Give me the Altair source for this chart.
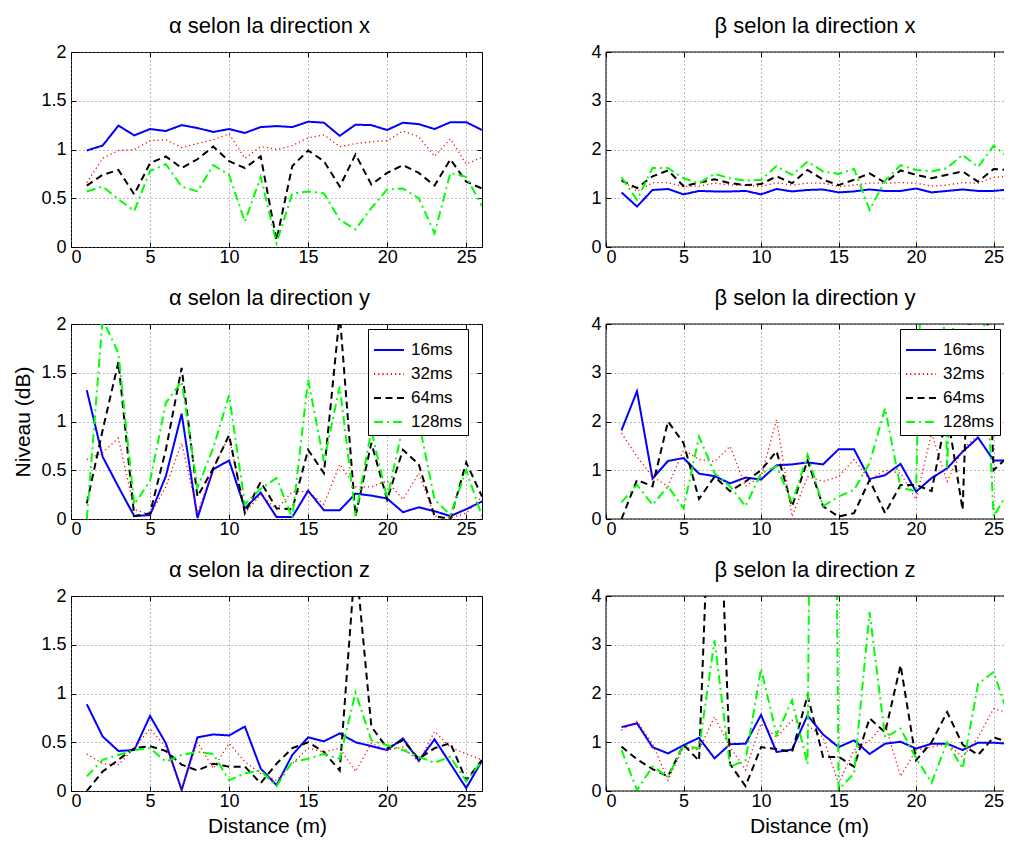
import altair as alt
import pandas as pd

x_vals = list(range(1, 27))
series = ["16ms", "32ms", "64ms", "128ms"]
colors = ["#0000ff", "#ff0000", "#000000", "#00ff00"]
dashes = [[1, 0], [1.2, 3], [7, 4.5], [9, 4, 2, 4]]

x_ticks = [0, 5, 10, 15, 20, 25]
alpha_ticks = [0, 0.5, 1, 1.5, 2]
beta_ticks = [0, 1, 2, 3, 4]

# alpha, direction x
a_x_16 = [0.99, 1.04, 1.245, 1.145, 1.21, 1.19, 1.25, 1.22, 1.18, 1.21, 1.17, 1.23, 1.24, 1.23, 1.285, 1.275, 1.14, 1.255, 1.25, 1.20, 1.275, 1.26, 1.21, 1.28, 1.28, 1.20]
a_x_32 = [0.66, 0.91, 0.99, 1.0, 1.09, 1.1, 1.02, 1.06, 1.1, 1.16, 0.91, 1.03, 1.0, 1.04, 1.12, 1.15, 1.03, 1.06, 1.08, 1.09, 1.19, 1.13, 0.93, 1.11, 0.85, 0.92]
a_x_64 = [0.63, 0.74, 0.79, 0.54, 0.86, 0.93, 0.81, 0.9, 1.03, 0.88, 0.81, 0.93, 0.07, 0.83, 0.99, 0.88, 0.62, 0.95, 0.64, 0.76, 0.84, 0.76, 0.63, 0.9, 0.67, 0.6]
a_x_128 = [0.57, 0.62, 0.49, 0.37, 0.78, 0.85, 0.62, 0.57, 0.84, 0.74, 0.26, 0.72, 0.04, 0.55, 0.57, 0.55, 0.28, 0.18, 0.4, 0.59, 0.6, 0.5, 0.14, 0.76, 0.72, 0.42]

# alpha, direction y
a_y_16 = [1.32, 0.64, 0.33, 0.03, 0.04, 0.44, 1.08, 0.01, 0.51, 0.6, 0.11, 0.27, 0.02, 0.02, 0.29, 0.09, 0.09, 0.26, 0.24, 0.21, 0.07, 0.12, 0.08, 0.03, 0.1, 0.18]
a_y_32 = [0.61, 0.68, 0.83, 0.1, 0.04, 0.33, 0.78, 0.06, 0.52, 0.85, 0.06, 0.25, 0.1, 0.28, 0.28, 0.15, 0.56, 0.33, 0.33, 0.39, 0.2, 0.47, 0.03, 0.01, 0.06, 0.23]
a_y_64 = [0.16, 0.91, 1.61, 0.03, 0.06, 0.71, 1.55, 0.23, 0.52, 0.86, 0.06, 0.38, 0.11, 0.1, 0.71, 0.47, 2.1, 0.03, 0.78, 0.2, 0.71, 0.56, 0.03, 0.0, 0.58, 0.23]
a_y_128 = [0.0, 2.05, 1.7, 0.15, 0.39, 1.19, 1.41, 0.32, 0.73, 1.27, 0.15, 0.31, 0.42, 0.01, 1.43, 0.59, 1.36, 0.03, 0.91, 0.21, 0.95, 1.0, 0.2, 0.04, 0.5, 0.03]

# alpha, direction z
a_z_16 = [0.89, 0.56, 0.41, 0.42, 0.77, 0.49, 0.01, 0.55, 0.58, 0.57, 0.66, 0.23, 0.06, 0.37, 0.55, 0.51, 0.59, 0.5, 0.46, 0.42, 0.54, 0.31, 0.53, 0.28, 0.03, 0.31]
a_z_32 = [0.38, 0.28, 0.27, 0.44, 0.64, 0.45, 0.01, 0.5, 0.23, 0.49, 0.3, 0.18, 0.11, 0.28, 0.44, 0.4, 0.44, 0.2, 0.49, 0.42, 0.45, 0.3, 0.61, 0.45, 0.38, 0.32]
a_z_64 = [0.0, 0.2, 0.32, 0.44, 0.46, 0.41, 0.27, 0.21, 0.28, 0.25, 0.25, 0.08, 0.28, 0.44, 0.5, 0.4, 0.21, 2.4, 0.66, 0.44, 0.52, 0.33, 0.44, 0.49, 0.11, 0.32]
a_z_128 = [0.15, 0.32, 0.37, 0.42, 0.44, 0.3, 0.37, 0.4, 0.38, 0.11, 0.18, 0.21, 0.05, 0.3, 0.33, 0.38, 0.33, 1.01, 0.52, 0.47, 0.42, 0.35, 0.29, 0.35, 0.1, 0.31]

# beta, direction x
b_x_16 = [1.12, 0.83, 1.17, 1.19, 1.08, 1.15, 1.14, 1.14, 1.15, 1.08, 1.19, 1.14, 1.17, 1.18, 1.12, 1.14, 1.18, 1.15, 1.15, 1.2, 1.12, 1.15, 1.18, 1.15, 1.15, 1.18]
b_x_32 = [1.38, 1.14, 1.32, 1.32, 1.24, 1.25, 1.31, 1.27, 1.27, 1.24, 1.32, 1.27, 1.31, 1.31, 1.24, 1.27, 1.31, 1.31, 1.32, 1.31, 1.25, 1.27, 1.32, 1.31, 1.43, 1.45]
b_x_64 = [1.36, 1.21, 1.45, 1.57, 1.25, 1.32, 1.39, 1.31, 1.27, 1.29, 1.45, 1.31, 1.58, 1.38, 1.27, 1.38, 1.51, 1.32, 1.57, 1.48, 1.41, 1.48, 1.55, 1.34, 1.6, 1.58]
b_x_128 = [1.43, 0.97, 1.62, 1.62, 1.41, 1.31, 1.5, 1.41, 1.36, 1.38, 1.66, 1.48, 1.75, 1.55, 1.5, 1.6, 0.76, 1.36, 1.68, 1.58, 1.55, 1.62, 1.89, 1.64, 2.08, 1.82]

# beta, direction y
b_y_16 = [1.82, 2.62, 0.83, 1.19, 1.25, 0.93, 0.88, 0.73, 0.85, 0.81, 1.1, 1.12, 1.16, 1.12, 1.43, 1.43, 0.82, 0.9, 1.13, 0.56, 0.84, 1.04, 1.38, 1.67, 1.2, 1.2]
b_y_32 = [1.76, 1.28, 0.87, 0.67, 1.42, 1.22, 1.18, 1.49, 0.67, 0.87, 2.04, 0.05, 0.87, 0.77, 0.87, 1.22, 0.8, 1.0, 0.94, 0.4, 1.76, 0.77, 1.42, 1.73, 1.83, 1.9]
b_y_64 = [0.0, 0.8, 0.67, 2.0, 1.56, 0.41, 0.87, 0.57, 0.77, 1.0, 1.39, 0.26, 1.2, 0.26, 0.05, 0.12, 0.8, 0.12, 0.7, 0.7, 0.57, 2.2, 0.19, 9.0, 1.0, 1.3]
b_y_128 = [0.34, 0.7, 0.29, 0.67, 0.22, 1.69, 0.94, 0.67, 0.26, 0.94, 1.08, 0.33, 1.32, 0.26, 0.46, 0.6, 1.15, 2.27, 0.64, 0.57, 15.0, 1.05, 8.4, 6.6, 0.05, 0.6]

# beta, direction z
b_z_16 = [1.31, 1.39, 0.9, 0.77, 0.94, 1.09, 0.67, 0.96, 0.97, 1.56, 0.8, 0.85, 1.55, 1.16, 0.9, 1.04, 0.76, 0.97, 1.01, 0.87, 0.97, 0.97, 0.84, 0.99, 0.99, 0.97]
b_z_32 = [1.25, 1.43, 0.97, 0.22, 0.9, 0.84, 1.52, 0.9, 0.43, 1.38, 1.1, 1.45, 1.35, 1.1, 0.16, 0.84, 1.04, 1.38, 0.3, 0.84, 0.9, 0.97, 0.7, 1.1, 1.69, 1.6]
b_z_64 = [0.91, 0.65, 0.45, 0.3, 0.95, 0.62, 9.0, 0.55, 0.1, 0.9, 0.86, 0.8, 1.96, 0.7, 0.7, 0.5, 1.49, 1.2, 2.58, 0.63, 1.0, 1.62, 0.95, 0.74, 1.1, 1.0]
b_z_128 = [0.84, 0.02, 0.5, 0.29, 0.94, 0.87, 3.09, 0.5, 0.63, 2.51, 1.15, 1.86, 0.55, 40.0, 0.03, 0.36, 3.67, 1.1, 1.28, 0.67, 0.17, 1.0, 0.46, 2.2, 2.44, 1.5]

FONT = "Liberation Sans"
LEFT_W = 411
RIGHT_XMAX = 25.67
RIGHT_SCALE = 15.5
RIGHT_W = round(RIGHT_XMAX * RIGHT_SCALE)
PANEL_H = 195
TICK = 5  # inward tick length (MATLAB style)


def make_df(lists):
    rows = []
    for s, vals in zip(series, lists):
        for xv, v in zip(x_vals, vals):
            rows.append({"x": xv, "v": v, "series": s})
    return pd.DataFrame(rows)


def tick_axis(values, orient):
    # ticks only, pointing into the plot area
    return alt.Axis(orient=orient, values=values, labels=False, grid=False, domain=False,
                    title=None, ticks=True, tickSize=TICK, offset=-TICK,
                    tickColor="black", tickWidth=1)


def panel(lists, title, ymax, yticks, right=False, legend=False, xtitle=None, ytitle=None):
    width = RIGHT_W if right else LEFT_W
    xmax = RIGHT_XMAX if right else 26
    if legend:
        lx = 294 if right else 297
        leg = alt.Legend(title=None, orient="none", legendX=lx, legendY=5)
    else:
        leg = None
    common = dict(ticks=True, tickSize=TICK, offset=-TICK, tickColor="black", tickWidth=1, domain=False)
    xaxis = alt.Axis(values=x_ticks, title=xtitle, titleX=203 if right else 196, **common) if xtitle \
        else alt.Axis(values=x_ticks, title=None, **common)
    yaxis = alt.Axis(values=yticks, format="~g", title=ytitle, **common) if ytitle \
        else alt.Axis(values=yticks, format="~g", title=None, **common)
    xscale = alt.Scale(domain=[0, xmax], nice=False, zero=False)
    yscale = alt.Scale(domain=[0, ymax], nice=False)
    df = make_df(lists)
    ttl = alt.Title(title, dx=10 if right else -7, frame="group", offset=5)
    lines = (
        alt.Chart(df)
        .mark_line(clip=True)
        .encode(
            x=alt.X("x:Q", scale=xscale, axis=xaxis),
            y=alt.Y("v:Q", scale=yscale, axis=yaxis),
            color=alt.Color("series:N", scale=alt.Scale(domain=series, range=colors), legend=leg),
            strokeDash=alt.StrokeDash("series:N", scale=alt.Scale(domain=series, range=dashes), legend=leg),
            strokeWidth=alt.condition(alt.datum.series == "32ms", alt.value(1.3), alt.value(2)),
        )
    )
    # frame segments: top, bottom, left (right-hand panels are cut by the page edge)
    frame_df = pd.DataFrame({
        "x0": [0, 0, 0],
        "x1": [xmax, xmax, 0],
        "y0": [ymax, 0, 0],
        "y1": [ymax, 0, ymax],
    })
    frame = (
        alt.Chart(frame_df)
        .mark_rule(color="black", strokeWidth=1, opacity=1 if right else 0)
        .encode(
            x=alt.X("x0:Q", scale=xscale, axis=tick_axis(x_ticks, "top")),
            x2="x1:Q",
            y=alt.Y("y0:Q", scale=yscale, axis=None if right else tick_axis(yticks, "right")),
            y2="y1:Q",
        )
    )
    layered = alt.layer(lines, frame).resolve_axis(x="independent", y="independent")
    if right:
        return layered.properties(width=width, height=PANEL_H, title=ttl,
                                  view=alt.ViewBackground(stroke="transparent"))
    return layered.properties(width=width, height=PANEL_H, title=ttl)


p1 = panel([a_x_16, a_x_32, a_x_64, a_x_128], "α selon la direction x", 2, alpha_ticks)
p2 = panel([b_x_16, b_x_32, b_x_64, b_x_128], "β selon la direction x", 4, beta_ticks, right=True)
p3 = panel([a_y_16, a_y_32, a_y_64, a_y_128], "α selon la direction y", 2, alpha_ticks, legend=True, ytitle="Niveau (dB)")
p4 = panel([b_y_16, b_y_32, b_y_64, b_y_128], "β selon la direction y", 4, beta_ticks, right=True, legend=True)
p5 = panel([a_z_16, a_z_32, a_z_64, a_z_128], "α selon la direction z", 2, alpha_ticks, xtitle="Distance (m)")
p6 = panel([b_z_16, b_z_32, b_z_64, b_z_128], "β selon la direction z", 4, beta_ticks, right=True, xtitle="Distance (m)")

chart = (
    alt.concat(p1, p2, p3, p4, p5, p6, columns=2, spacing={"row": 77, "column": 124}, bounds="flush")
    .resolve_legend(color="independent", strokeDash="independent")
    .properties(padding={"left": 4, "top": 6, "right": 0, "bottom": 0})
    .configure_view(stroke="black", strokeWidth=1)
    .configure_axis(
        grid=True,
        gridColor="#777777",
        gridDash=[1, 3],
        gridWidth=1,
        labelFont=FONT,
        labelFontSize=18,
        labelColor="black",
        titleFont=FONT,
        titleFontWeight="normal",
        titleColor="black",
    )
    .configure_axisX(labelPadding=1, titlePadding=5, titleFontSize=21)
    .configure_axisY(labelPadding=5, titlePadding=7, titleFontSize=21)
    .configure_title(font=FONT, fontSize=22, fontWeight="normal", color="black")
    .configure_legend(
        strokeColor="black",
        fillColor="white",
        padding=5,
        cornerRadius=0,
        labelFont=FONT,
        labelFontSize=17,
        labelColor="black",
        symbolType="stroke",
        symbolSize=900,
        symbolStrokeWidth=2,
        rowPadding=0,
        labelOffset=6,
    )
)

chart.save("out.html", embed_options={"renderer": "svg", "actions": False})
